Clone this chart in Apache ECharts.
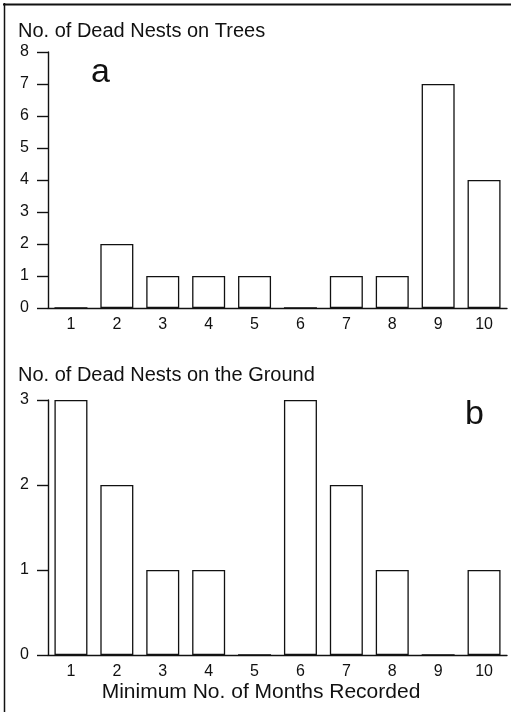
<!DOCTYPE html>
<html>
<head>
<meta charset="utf-8">
<script src="https://cdn.jsdelivr.net/npm/echarts@6/dist/echarts.min.js"></script>
<style>
  html, body { margin: 0; padding: 0; background: #fff; }
  #chart { width: 511px; height: 712px; }
</style>
</head>
<body>
<div id="chart"></div>
<script>
// months recorded (shared x categories)
const months = ['1', '2', '3', '4', '5', '6', '7', '8', '9', '10']
// panel a: dead nests on trees
const treeNests = [0, 2, 1, 1, 1, 0, 1, 1, 7, 4]
// panel b: dead nests on the ground
const groundNests = [3, 2, 1, 1, 0, 3, 2, 1, 0, 1]
const treeMax = 8
const groundMax = 3

const font = 'Liberation Sans'
const ink = '#111'

function yAxisFor(gridIndex, max) {
  return {
    gridIndex: gridIndex,
    type: 'value',
    min: 0,
    max: max,
    interval: 1,
    axisLine: { show: true, lineStyle: { color: ink, width: 1.4 } },
    axisTick: { show: true, length: 11, lineStyle: { color: ink, width: 1.4 } },
    axisLabel: { margin: 19, color: ink, fontFamily: font, fontSize: 16 },
    splitLine: { show: false }
  }
}

function xAxisFor(gridIndex) {
  return {
    gridIndex: gridIndex,
    type: 'category',
    data: months,
    boundaryGap: true,
    axisLine: { show: true, lineStyle: { color: ink, width: 1.4 } },
    axisTick: { show: false },
    axisLabel: { margin: 9, color: ink, fontFamily: font, fontSize: 16 }
  }
}

function barSeries(idx, data) {
  return {
    type: 'bar',
    xAxisIndex: idx,
    yAxisIndex: idx,
    data: data,
    barWidth: 33,
    itemStyle: { color: '#fff', borderColor: ink, borderWidth: 1.3 }
  }
}

function label(text, x, y, size, align) {
  return {
    type: 'text',
    x: x,
    y: y,
    style: {
      text: text,
      fill: ink,
      fontFamily: font,
      fontSize: size,
      align: align || 'left',
      verticalAlign: 'middle'
    }
  }
}

const chart = echarts.init(document.getElementById('chart'))
chart.setOption({
  animation: false,
  backgroundColor: '#fff',
  grid: [
    { left: 48, top: 52, width: 459, height: 256 },
    { left: 48, top: 400, width: 459, height: 255 }
  ],
  xAxis: [xAxisFor(0), xAxisFor(1)],
  yAxis: [yAxisFor(0, treeMax), yAxisFor(1, groundMax)],
  series: [barSeries(0, treeNests), barSeries(1, groundNests)],
  graphic: [
    { type: 'line', shape: { x1: 3, y1: 4.5, x2: 511, y2: 4.5 }, style: { stroke: ink, lineWidth: 2 } },
    { type: 'line', shape: { x1: 4.5, y1: 3, x2: 4.5, y2: 712 }, style: { stroke: ink, lineWidth: 1.5 } },
    label('No. of Dead Nests on Trees', 18, 31, 20),
    label('No. of Dead Nests on the Ground', 18, 375, 20),
    label('a', 91, 73, 34),
    label('b', 465, 415, 34),
    label('Minimum No. of Months Recorded', 261, 692, 21, 'center')
  ]
})
</script>
</body>
</html>
